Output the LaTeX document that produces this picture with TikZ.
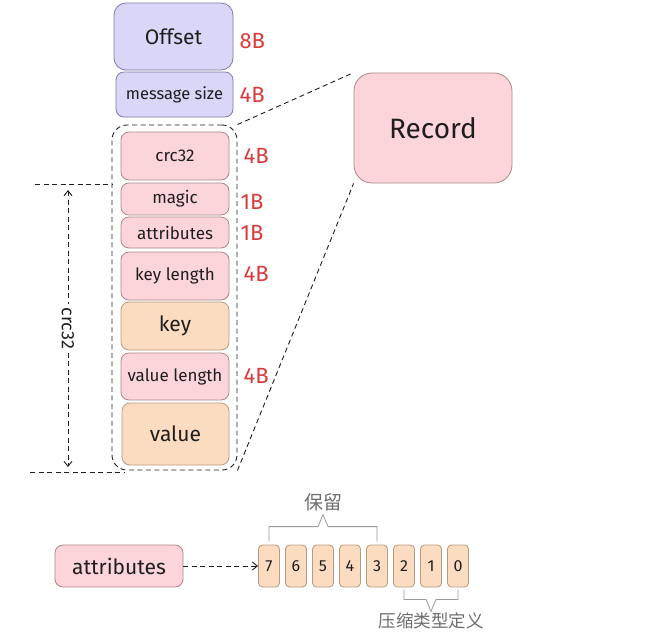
\documentclass[tikz,border=0pt]{standalone}
\usepackage{fontspec}
\setmainfont{Fira Sans}
\newfontfamily\cjk{Noto Sans CJK SC}
\usetikzlibrary{arrows.meta,positioning,calc}
\tikzset {>={Straight Barb[length=5pt,width=8pt]}}
\definecolor{lavfill}{HTML}{D9D6F7}
\definecolor{lavline}{HTML}{7E79A8}
\definecolor{pinkfill}{HTML}{FCD5DA}
\definecolor{pinkline}{HTML}{A8868A}
\definecolor{orfill}{HTML}{FCDCC0}
\definecolor{orline}{HTML}{B89A7E}
\definecolor{ink}{HTML}{1E1E1E}
\definecolor{sizered}{HTML}{D93A3C}
\definecolor{notegray}{HTML}{6E6E6E}

\begin{document}
\begin{tikzpicture}[x=1pt,y=-1pt,
  fld/.style={draw,line width=0.8pt,rounded corners=8pt,inner sep=0pt,text=ink,
    font=\fontsize{17}{19}\selectfont},
  lav/.style={fld,fill=lavfill,draw=lavline},
  pnk/.style={fld,fill=pinkfill,draw=pinkline},
  org/.style={fld,fill=orfill,draw=orline},
  sz/.style={anchor=west,inner sep=1pt,text=sizered,font=\fontsize{22}{24}\selectfont},
  dsh/.style={dashed,line width=0.9pt,ink,dash pattern=on 5pt off 3.5pt},
  brk/.style={line width=0.8pt,notegray!70},
  bit/.style={org,rounded corners=4pt,minimum width=21pt,minimum height=42pt,
    font=\fontsize{16}{18}\selectfont}]
\useasboundingbox (0,0) rectangle (667,638);

% message header
\node[lav,rounded corners=12pt,minimum width=119pt,minimum height=67pt,
  font=\fontsize{21}{23}\selectfont] (offset) at (173.5,36.5) {Offset};
\node[sz] (s8) at ([xshift=5pt,yshift=-5pt]offset.east) {8B};
\node[lav,minimum width=117pt,minimum height=45pt,font=\fontsize{16.5}{18}\selectfont] (msize) at (174.5,94.5) {message size};
\node[sz] (s4a) at ([xshift=5pt]msize.east) {4B};

% record fields
\node[pnk,minimum width=108pt,minimum height=48pt] (crc) at (175,156) {crc32};
\node[pnk,minimum width=108pt,minimum height=32pt] (magic) at (175,199) {magic};
\node[pnk,minimum width=108pt,minimum height=31pt] (attr) at (175,232.5) {attributes};
\node[pnk,minimum width=108pt,minimum height=48pt] (klen) at (175,276) {key length};
\node[org,minimum width=108pt,minimum height=48pt,font=\fontsize{21}{23}\selectfont] (key) at (175,326) {key};
\node[pnk,minimum width=108pt,minimum height=47pt] (vlen) at (175,376.5) {value length};
\node[org,minimum width=107pt,minimum height=62pt,font=\fontsize{21}{23}\selectfont] (val) at (175.5,434) {value};
\node[dsh,draw,rounded corners=15pt,minimum width=125pt,minimum height=345pt] (grp) at (174.5,297.5) {};

\node[sz] (s4b) at ([xshift=5pt]crc -| grp.east) {4B};
\node[sz] (s1a) at ([xshift=2pt,yshift=-3pt]magic -| grp.east) {1B};
\node[sz] (s1b) at ([xshift=2pt]attr -| grp.east) {1B};
\node[sz] (s4c) at ([xshift=5pt,yshift=2pt]klen -| grp.east) {4B};
\node[sz] (s4d) at ([xshift=5pt,yshift=1pt]vlen -| grp.east) {4B};

\node[pnk,rounded corners=18pt,minimum width=158pt,minimum height=110pt,
  font=\fontsize{28}{30}\selectfont] (rec) at (433,128) {Record};
\draw[dsh] (grp.north east) -- (rec.north west);
\draw[dsh] (grp.south east) -- (rec.south west);

% crc32 range
\coordinate (ctop) at (35,184);
\coordinate (cbot) at (30,472);
\draw[dsh] (ctop) -- (ctop -| grp.west);
\draw[dsh] (cbot) -- ([xshift=12pt]cbot -| grp.west);
\draw[dsh,<->] (68,190) -- node[fill=white,rotate=-90,inner sep=4pt,
  font=\fontsize{18}{20}\selectfont] {crc32} (68,467);

% attributes bits
\node[pnk,minimum width=128pt,minimum height=42pt,font=\fontsize{21}{23}\selectfont] (attrb) at (119,566) {attributes};
\foreach \b [count=\i] in {7,6,5,4,3,2,1,0}
  \node[bit] (b\b) at ({269+27*(\i-1)},566) {\b};
\draw[dsh,->] (attrb) -- (b7);

\coordinate (tm) at ($(b7.north)!.5!(b3.north)$);
\draw[brk] ([yshift=3pt]b7.north) |- ([xshift=-5pt,yshift=18pt]tm) -- ([yshift=30pt]tm)
  -- ([xshift=5pt,yshift=18pt]tm) -| ([yshift=3pt]b3.north);
\node[above=0pt of {[yshift=30pt]tm},text=notegray,font=\cjk\fontsize{19}{21}\selectfont] (keep) {保留};

\coordinate (bm) at ($(b2.south)!.5!(b0.south)$);
\draw[brk] ([yshift=-2pt]b2.south) |- ([xshift=-5pt,yshift=-12pt]bm) -- ([yshift=-24pt]bm)
  -- ([xshift=5pt,yshift=-12pt]bm) -| ([yshift=-2pt]b0.south);
\node[below=-2pt of {[yshift=-24pt]bm},text=notegray,font=\cjk\fontsize{17.5}{19}\selectfont] (comp) {压缩类型定义};
\end{tikzpicture}
\end{document}
